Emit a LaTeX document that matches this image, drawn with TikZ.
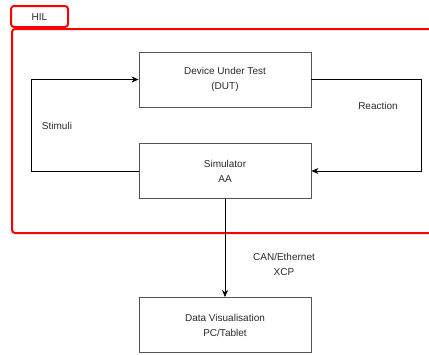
\documentclass[tikz,border=0pt]{standalone}
\usepackage{fontspec}
\setmainfont{Liberation Sans}
\usetikzlibrary{arrows.meta}
\definecolor{boxgray}{HTML}{555555}
\definecolor{txtgray}{HTML}{2A2A2A}
\definecolor{hilred}{HTML}{FF0000}
\begin{document}
\begin{tikzpicture}[x=1pt,y=-1pt,
  block/.style={draw=boxgray, line width=0.9pt, minimum width=172pt, minimum height=55pt,
    align=center, font=\fontsize{10}{15}\selectfont, text=txtgray, inner sep=0pt},
  lbl/.style={font=\fontsize{10}{15}\selectfont, text=txtgray, align=center, inner sep=0pt},
  link/.style={draw=black, line width=0.7pt},
  tip/.style={-{Stealth[length=7pt,width=6pt]}},
  frame/.style={draw=hilred, line width=2pt, rounded corners=3pt}]
  \useasboundingbox (0,0) rectangle (429,354);
  \begin{scope}
    \clip (0,0) rectangle (429,354);
    % HIL frame and its tab
    \draw[frame] (11,27) rectangle (68,6);
    \node[lbl] (hil) at (39.5,17) {HIL};
    \draw[frame] (12,29) rectangle (445,233);
  \end{scope}
  % blocks
  \node[block] (dut) at (225,79.5) {Device Under Test\\(DUT)};
  \node[block] (sim) at (225,171) {Simulator\\AA};
  \node[block] (vis) at (225,325) {Data Visualisation\\PC/Tablet};
  % connectors
  \draw[link,tip] (sim.west) -- (31,171) -- (31,79.5) -- (dut.west);
  \draw[link,tip] (dut.east) -- (421,79.5) -- (421,171) -- (sim.east);
  \draw[link,tip] (sim.south) -- (vis.north);
  % labels
  \node[lbl] (stim) at (57,126) {Stimuli};
  \node[lbl] (react) at (378,106) {Reaction};
  \node[lbl] (bus) at (284,264.5) {CAN/Ethernet\\XCP};
\end{tikzpicture}
\end{document}
